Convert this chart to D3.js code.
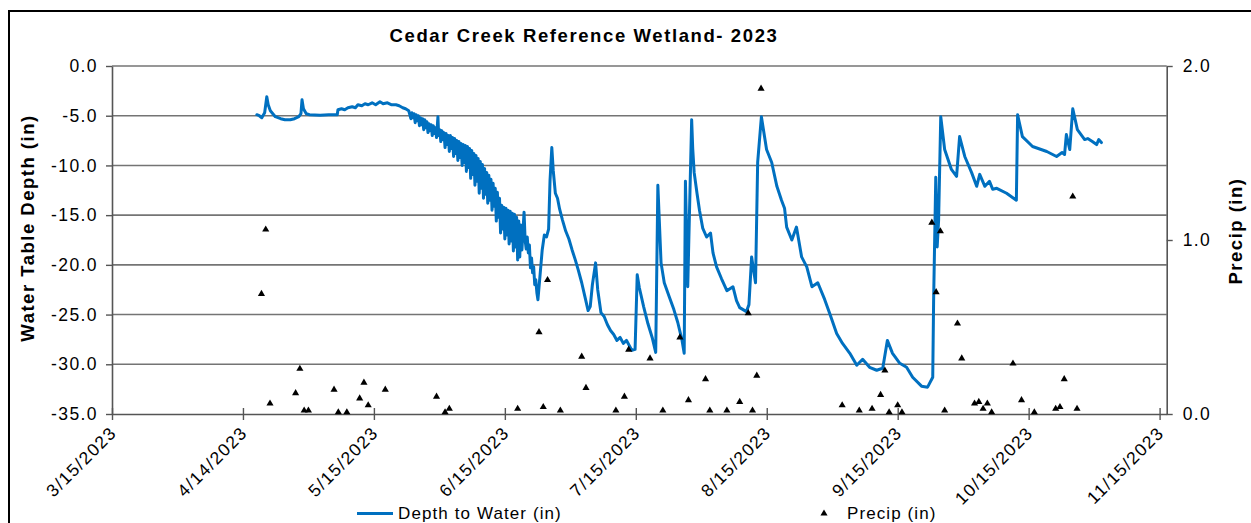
<!DOCTYPE html>
<html>
<head>
<meta charset="utf-8">
<script src="https://cdn.jsdelivr.net/npm/d3@7"></script>
<style>
  html, body { margin: 0; padding: 0; background: #fff; }
  svg { display: block; }
  text { font-family: "Liberation Sans", Arial, sans-serif; fill: #000; }
</style>
</head>
<body>
<svg id="chart" width="1251" height="523"></svg>
<script>
// ---- text ----
const chartTitle = "Cedar Creek Reference Wetland- 2023";
const leftAxisTitle = "Water Table Depth (in)";
const rightAxisTitle = "Precip (in)";
const depthLegendLabel = "Depth to Water (in)";
const precipLegendLabel = "Precip (in)";

// ---- axes ----
const xTickLabels = ["3/15/2023", "4/14/2023", "5/15/2023", "6/15/2023", "7/15/2023",
                     "8/15/2023", "9/15/2023", "10/15/2023", "11/15/2023"];
const depthTicks = [0, -5, -10, -15, -20, -25, -30, -35];
const depthTickLabels = ["0.0", "-5.0", "-10.0", "-15.0", "-20.0", "-25.0", "-30.0", "-35.0"];
const precipTicks = [0, 1, 2];
const precipTickLabels = ["0.0", "1.0", "2.0"];

// ---- depth to water (in), logger readings ----
const depthReadings = [
  ["2023-04-17 22", -4.9], ["2023-04-18 12", -5.0], ["2023-04-19 02", -5.2], ["2023-04-19 18", -4.7],
  ["2023-04-20 06", -3.1], ["2023-04-20 14", -3.9], ["2023-04-21 02", -4.5], ["2023-04-22 06", -5.1],
  ["2023-04-23 12", -5.3], ["2023-04-24 12", -5.4], ["2023-04-25 18", -5.4], ["2023-04-26 18", -5.3],
  ["2023-04-27 18", -5.1], ["2023-04-28 06", -4.8], ["2023-04-28 12", -3.4], ["2023-04-28 20", -4.3],
  ["2023-04-29 12", -4.8], ["2023-04-30 06", -4.9], ["2023-05-02 18", -4.95], ["2023-05-04 18", -4.9],
  ["2023-05-06 18", -4.9], ["2023-05-06 22", -4.4], ["2023-05-07 18", -4.3], ["2023-05-08 12", -4.4],
  ["2023-05-09 06", -4.2], ["2023-05-10 06", -4.1], ["2023-05-11 00", -4.2], ["2023-05-11 14", -3.9],
  ["2023-05-12 12", -4.0], ["2023-05-13 06", -3.8], ["2023-05-14 00", -3.9], ["2023-05-14 22", -3.7],
  ["2023-05-15 18", -3.9], ["2023-05-16 18", -3.6], ["2023-05-17 12", -3.8], ["2023-05-18 12", -3.7],
  ["2023-05-19 12", -3.9], ["2023-05-20 12", -3.9], ["2023-05-21 06", -4.0], ["2023-05-22 02", -4.2],
  ["2023-05-22 18", -4.3], ["2023-05-23 12", -4.5],
  // daily swings while the table falls (6-hourly)
  ["2023-05-24 00", -5.3], ["2023-05-24 06", -4.7], ["2023-05-24 12", -5.2], ["2023-05-24 18", -4.8],
  ["2023-05-25 00", -5.7], ["2023-05-25 06", -4.9], ["2023-05-25 12", -5.5], ["2023-05-25 18", -5.0],
  ["2023-05-26 00", -6.0], ["2023-05-26 06", -5.2], ["2023-05-26 12", -5.9], ["2023-05-26 18", -5.3],
  ["2023-05-27 00", -6.4], ["2023-05-27 06", -5.4], ["2023-05-27 12", -6.2], ["2023-05-27 18", -5.6],
  ["2023-05-28 00", -6.7], ["2023-05-28 06", -5.8], ["2023-05-28 12", -6.5], ["2023-05-28 18", -5.9],
  ["2023-05-29 00", -7.0], ["2023-05-29 06", -6.0], ["2023-05-29 12", -6.8], ["2023-05-29 18", -6.2],
  ["2023-05-30 00", -7.2], ["2023-05-30 08", -5.1], ["2023-05-30 12", -7.0], ["2023-05-30 18", -6.4],
  ["2023-05-31 00", -7.6], ["2023-05-31 06", -6.5], ["2023-05-31 12", -7.4], ["2023-05-31 18", -6.7],
  ["2023-06-01 00", -8.2], ["2023-06-01 06", -6.8], ["2023-06-01 12", -7.9], ["2023-06-01 18", -7.0],
  ["2023-06-02 00", -8.6], ["2023-06-02 06", -7.0], ["2023-06-02 12", -8.3], ["2023-06-02 18", -7.2],
  ["2023-06-03 00", -9.1], ["2023-06-03 06", -7.3], ["2023-06-03 12", -8.8], ["2023-06-03 18", -7.5],
  ["2023-06-04 00", -9.5], ["2023-06-04 06", -7.6], ["2023-06-04 12", -9.2], ["2023-06-04 18", -7.8],
  ["2023-06-05 00", -10.0], ["2023-06-05 06", -7.9], ["2023-06-05 12", -9.7], ["2023-06-05 18", -8.0],
  ["2023-06-06 00", -10.6], ["2023-06-06 06", -8.1], ["2023-06-06 12", -10.2], ["2023-06-06 18", -8.3],
  ["2023-06-07 00", -11.3], ["2023-06-07 06", -8.5], ["2023-06-07 12", -10.9], ["2023-06-07 18", -8.8],
  ["2023-06-08 00", -12.0], ["2023-06-08 06", -9.0], ["2023-06-08 12", -11.6], ["2023-06-08 18", -9.3],
  ["2023-06-09 00", -12.8], ["2023-06-09 06", -9.6], ["2023-06-09 12", -12.3], ["2023-06-09 18", -9.9],
  ["2023-06-10 00", -13.3], ["2023-06-10 06", -10.3], ["2023-06-10 12", -12.9], ["2023-06-10 18", -10.7],
  ["2023-06-11 00", -13.8], ["2023-06-11 06", -11.0], ["2023-06-11 12", -13.5], ["2023-06-11 18", -11.4],
  ["2023-06-12 00", -14.5], ["2023-06-12 06", -11.8], ["2023-06-12 12", -14.1], ["2023-06-12 18", -12.3],
  ["2023-06-13 00", -15.6], ["2023-06-13 06", -12.7], ["2023-06-13 12", -15.2], ["2023-06-13 18", -13.3],
  ["2023-06-14 00", -16.8], ["2023-06-14 06", -14.0], ["2023-06-14 12", -16.4], ["2023-06-14 18", -14.2],
  ["2023-06-15 00", -17.4], ["2023-06-15 06", -14.3], ["2023-06-15 12", -17.0], ["2023-06-15 18", -14.5],
  ["2023-06-16 00", -17.9], ["2023-06-16 06", -14.6], ["2023-06-16 12", -17.6], ["2023-06-16 18", -14.8],
  ["2023-06-17 00", -18.6], ["2023-06-17 06", -14.9], ["2023-06-17 12", -18.2], ["2023-06-17 18", -15.2],
  ["2023-06-18 00", -19.5], ["2023-06-18 06", -15.6], ["2023-06-18 12", -19.2], ["2023-06-18 18", -16.0],
  ["2023-06-19 00", -18.5], ["2023-06-19 12", -14.7], ["2023-06-19 18", -17.5],
  ["2023-06-20 00", -18.4], ["2023-06-20 06", -17.2], ["2023-06-20 12", -18.8], ["2023-06-20 18", -18.0],
  ["2023-06-21 00", -20.3], ["2023-06-21 06", -19.3], ["2023-06-21 12", -20.8], ["2023-06-21 18", -20.2],
  ["2023-06-22 00", -22.0], ["2023-06-22 06", -21.5], ["2023-06-22 12", -22.8], ["2023-06-22 18", -23.5],
  ["2023-06-23 06", -21.0], ["2023-06-23 18", -18.5], ["2023-06-24 06", -17.0],
  ["2023-06-24 18", -17.2], ["2023-06-25 06", -16.4], ["2023-06-25 14", -11.5], ["2023-06-26 00", -8.2],
  // late June - July storms
  ["2023-06-26 08", -10.5], ["2023-06-26 20", -12.8], ["2023-06-27 08", -13.3], ["2023-06-27 20", -14.4],
  ["2023-06-28 12", -15.5], ["2023-06-29 06", -16.6], ["2023-06-30 00", -17.4], ["2023-06-30 18", -18.5],
  ["2023-07-01 12", -19.5], ["2023-07-02 06", -20.6], ["2023-07-03 00", -21.8], ["2023-07-03 18", -23.2],
  ["2023-07-04 12", -24.6], ["2023-07-05 00", -24.2], ["2023-07-05 12", -22.0], ["2023-07-06 06", -19.8],
  ["2023-07-06 18", -22.5], ["2023-07-07 12", -24.8], ["2023-07-08 06", -25.2], ["2023-07-09 00", -26.0],
  ["2023-07-09 18", -26.6], ["2023-07-10 12", -27.0], ["2023-07-11 06", -27.6], ["2023-07-12 00", -27.3],
  ["2023-07-12 18", -27.9], ["2023-07-13 12", -27.6], ["2023-07-14 06", -28.2], ["2023-07-14 18", -28.6],
  ["2023-07-15 12", -28.5], ["2023-07-16 00", -21.0], ["2023-07-16 12", -22.3], ["2023-07-17 12", -24.2],
  ["2023-07-18 12", -25.9], ["2023-07-19 12", -27.3], ["2023-07-20 08", -28.8], ["2023-07-20 20", -12.0],
  ["2023-07-21 14", -19.8], ["2023-07-22 08", -21.8], ["2023-07-23 12", -23.2], ["2023-07-24 14", -24.5],
  ["2023-07-25 12", -25.8], ["2023-07-26 12", -27.6], ["2023-07-27 00", -28.9], ["2023-07-27 07", -11.6],
  ["2023-07-27 20", -22.2], ["2023-07-28 18", -5.4],
  // recession through August
  ["2023-07-29 00", -8.3], ["2023-07-29 08", -10.7], ["2023-07-30 00", -12.8], ["2023-07-30 14", -14.5],
  ["2023-07-31 08", -16.3], ["2023-08-01 06", -17.2], ["2023-08-02 04", -16.8], ["2023-08-02 18", -18.8],
  ["2023-08-03 14", -20.2], ["2023-08-04 18", -21.4], ["2023-08-06 00", -22.6], ["2023-08-07 10", -22.2],
  ["2023-08-08 06", -23.6], ["2023-08-09 00", -24.3], ["2023-08-10 14", -24.7], ["2023-08-11 04", -24.0],
  ["2023-08-11 19", -19.2], ["2023-08-12 17", -21.8], ["2023-08-13 05", -9.7], ["2023-08-14 02", -5.1],
  ["2023-08-15 07", -8.4], ["2023-08-16 12", -9.7], ["2023-08-17 17", -12.1], ["2023-08-18 19", -13.5],
  ["2023-08-19 12", -14.3], ["2023-08-20 00", -16.2], ["2023-08-21 05", -17.5], ["2023-08-22 07", -16.2],
  ["2023-08-23 12", -19.2], ["2023-08-24 17", -20.2], ["2023-08-25 22", -22.2], ["2023-08-27 07", -21.8],
  ["2023-08-28 22", -23.5], ["2023-08-30 02", -24.9], ["2023-08-31 17", -26.9], ["2023-09-02 02", -27.9],
  ["2023-09-03 19", -28.9], ["2023-09-05 10", -30.1], ["2023-09-06 19", -29.5], ["2023-09-08 10", -30.3],
  ["2023-09-10 02", -30.6], ["2023-09-11 12", -30.4], ["2023-09-12 14", -27.6], ["2023-09-13 19", -28.9],
  ["2023-09-15 12", -29.9], ["2023-09-17 02", -30.3], ["2023-09-18 12", -31.3], ["2023-09-20 14", -32.2],
  ["2023-09-22 00", -32.3], ["2023-09-23 05", -31.3], ["2023-09-23 10", -23.5], ["2023-09-23 22", -11.2],
  ["2023-09-24 06", -18.2], ["2023-09-24 14", -15.5], ["2023-09-25 02", -5.1],
  // fall recharge
  ["2023-09-26 00", -8.4], ["2023-09-27 14", -10.4], ["2023-09-28 19", -11.1], ["2023-09-29 12", -7.1],
  ["2023-09-30 17", -9.1], ["2023-10-02 07", -10.7], ["2023-10-03 12", -12.1], ["2023-10-04 05", -10.9],
  ["2023-10-05 10", -12.1], ["2023-10-06 12", -11.6], ["2023-10-07 06", -12.4], ["2023-10-08 05", -12.3],
  ["2023-10-10 12", -12.8], ["2023-10-12 19", -13.5], ["2023-10-13 02", -4.9], ["2023-10-14 05", -7.1],
  ["2023-10-16 14", -8.1], ["2023-10-19 22", -8.6], ["2023-10-22 05", -9.1], ["2023-10-23 12", -8.7],
  ["2023-10-24 02", -8.9], ["2023-10-24 12", -6.9], ["2023-10-25 07", -8.4], ["2023-10-26 00", -4.3],
  ["2023-10-27 02", -6.4], ["2023-10-28 19", -7.4], ["2023-10-29 12", -7.3], ["2023-10-30 14", -7.6],
  ["2023-10-31 14", -7.9], ["2023-11-01 02", -7.4], ["2023-11-01 17", -7.7]
];

// ---- daily precipitation (in) ----
const precipDaily = [
  ["2023-04-19", 0.69], ["2023-04-20", 1.06], ["2023-04-21", 0.06], ["2023-04-27", 0.12],
  ["2023-04-28", 0.26], ["2023-04-29", 0.02], ["2023-04-30", 0.02], ["2023-05-06", 0.14],
  ["2023-05-07", 0.01], ["2023-05-09", 0.01], ["2023-05-12", 0.09], ["2023-05-13", 0.18],
  ["2023-05-14", 0.05], ["2023-05-18", 0.14], ["2023-05-30", 0.10], ["2023-06-01", 0.01],
  ["2023-06-02", 0.03], ["2023-06-18", 0.03], ["2023-06-23", 0.47], ["2023-06-24", 0.04],
  ["2023-06-25", 0.77], ["2023-06-28", 0.02], ["2023-07-03", 0.33], ["2023-07-04", 0.15],
  ["2023-07-11", 0.02], ["2023-07-13", 0.10], ["2023-07-14", 0.37], ["2023-07-19", 0.32],
  ["2023-07-22", 0.02], ["2023-07-26", 0.44], ["2023-07-28", 0.08], ["2023-08-01", 0.20],
  ["2023-08-02", 0.02], ["2023-08-06", 0.02], ["2023-08-09", 0.07], ["2023-08-11", 0.58],
  ["2023-08-12", 0.02], ["2023-08-13", 0.22], ["2023-08-14", 1.87], ["2023-09-02", 0.05],
  ["2023-09-06", 0.02], ["2023-09-09", 0.03], ["2023-09-11", 0.11], ["2023-09-12", 0.25],
  ["2023-09-13", 0.01], ["2023-09-15", 0.05], ["2023-09-16", 0.01], ["2023-09-23", 1.10],
  ["2023-09-24", 0.70], ["2023-09-25", 1.05], ["2023-09-26", 0.02], ["2023-09-29", 0.52],
  ["2023-09-30", 0.32], ["2023-10-03", 0.06], ["2023-10-04", 0.07], ["2023-10-05", 0.03],
  ["2023-10-06", 0.06], ["2023-10-07", 0.01], ["2023-10-12", 0.29], ["2023-10-14", 0.08],
  ["2023-10-17", 0.01], ["2023-10-22", 0.03], ["2023-10-23", 0.04], ["2023-10-24", 0.20],
  ["2023-10-26", 1.25], ["2023-10-27", 0.03]
];

// ---- layout ----
const plot = { left: 112, right: 1166.7, top: 66, bottom: 414 };
const axisStart = "2023-03-15";
const axisSpanDays = 247;
const majorUnitDays = 30.667;
const lineBlue = "#0070c0";
const gridGray = "#747474";
const axisGray = "#555555";

const parseHour = d3.timeParse("%Y-%m-%d %H");
const parseDay = d3.timeParse("%Y-%m-%d");
const depth = depthReadings.map(([t, v]) => ({ t: parseHour(t), v }));
const precip = precipDaily.map(([t, p]) => ({ t: parseDay(t), p }));

const start = parseDay(axisStart);
const x = d3.scaleTime()
  .domain([start, d3.timeDay.offset(start, axisSpanDays)])
  .range([plot.left, plot.right]);
const yDepth = d3.scaleLinear().domain([-35, 0]).range([plot.bottom, plot.top]);
const yPrecip = d3.scaleLinear().domain([0, 2]).range([plot.bottom, plot.top]);
const tickDates = xTickLabels.map((_, i) => new Date(+start + i * majorUnitDays * 864e5));

const svg = d3.select("#chart");
svg.append("rect").attr("width", 1251).attr("height", 523).attr("fill", "#fff");

// outer chart frame
svg.append("rect")
  .attr("x", 9).attr("y", 11).attr("width", 1252).attr("height", 530)
  .attr("fill", "none").attr("stroke", "#000").attr("stroke-width", 2);

// title
svg.append("text")
  .attr("x", 584).attr("y", 41.5)
  .attr("text-anchor", "middle")
  .style("font-size", "18.5px").style("font-weight", "bold").style("letter-spacing", "1.6px")
  .text(chartTitle);

// horizontal gridlines
svg.append("g").selectAll("line")
  .data(depthTicks.filter(d => d > -35))
  .join("line")
  .attr("x1", plot.left).attr("x2", plot.right)
  .attr("y1", d => yDepth(d)).attr("y2", d => yDepth(d))
  .attr("stroke", gridGray).attr("stroke-width", 1.6);

function styleAxis(g) {
  g.select(".domain").attr("stroke", axisGray).attr("stroke-width", 1.6);
  g.selectAll(".tick line").attr("stroke", axisGray).attr("stroke-width", 1.4);
  g.selectAll(".tick text")
    .attr("fill", "#000")
    .style("font-family", "\"Liberation Sans\", Arial, sans-serif")
    .style("font-size", "17.5px")
    .style("letter-spacing", "1.4px");
}

// left axis (depth)
const gLeft = svg.append("g")
  .attr("transform", `translate(${plot.left},0)`)
  .call(d3.axisLeft(yDepth).tickValues(depthTicks)
    .tickFormat((d, i) => depthTickLabels[i])
    .tickSizeInner(6).tickSizeOuter(0).tickPadding(8));
styleAxis(gLeft);

// right axis (precip)
const gRight = svg.append("g")
  .attr("transform", `translate(${plot.right},0)`)
  .call(d3.axisRight(yPrecip).tickValues(precipTicks)
    .tickFormat((d, i) => precipTickLabels[i])
    .tickSizeInner(6).tickSizeOuter(0).tickPadding(10));
styleAxis(gRight);

// bottom date axis, ticks cross the axis line
const gBottom = svg.append("g")
  .attr("transform", `translate(0,${plot.bottom})`)
  .call(d3.axisBottom(x).tickValues(tickDates)
    .tickFormat((d, i) => xTickLabels[i])
    .tickSizeInner(6).tickSizeOuter(0));
styleAxis(gBottom);
gBottom.selectAll(".tick line").attr("y1", -6).attr("y2", 6);
gBottom.selectAll(".tick text")
  .attr("x", 0).attr("y", 0).attr("dy", null)
  .attr("text-anchor", "end")
  .attr("transform", "translate(5,20) rotate(-45)");

// axis titles
svg.append("text")
  .attr("transform", "translate(34,228) rotate(-90)")
  .attr("text-anchor", "middle")
  .style("font-size", "18.5px").style("font-weight", "bold").style("letter-spacing", "1.5px")
  .text(leftAxisTitle);
svg.append("text")
  .attr("transform", "translate(1242,231) rotate(-90)")
  .attr("text-anchor", "middle")
  .style("font-size", "18.5px").style("font-weight", "bold").style("letter-spacing", "1.5px")
  .text(rightAxisTitle);

// depth to water line
const line = d3.line().x(d => x(d.t)).y(d => yDepth(d.v));
svg.append("path")
  .datum(depth)
  .attr("d", line)
  .attr("fill", "none")
  .attr("stroke", lineBlue)
  .attr("stroke-width", 3)
  .attr("stroke-linejoin", "round")
  .attr("stroke-linecap", "round");

// precipitation markers
const tri = d3.symbol(d3.symbolTriangle, 22);
svg.append("g").selectAll("path")
  .data(precip)
  .join("path")
  .attr("transform", d => `translate(${x(d.t)},${yPrecip(d.p)})`)
  .attr("d", tri)
  .attr("fill", "#000");

// legend
const legend = svg.append("g");
legend.append("line")
  .attr("x1", 357).attr("x2", 393).attr("y1", 513.5).attr("y2", 513.5)
  .attr("stroke", lineBlue).attr("stroke-width", 3);
legend.append("text")
  .attr("x", 398).attr("y", 518.5)
  .style("font-size", "17px").style("letter-spacing", "1.1px")
  .text(depthLegendLabel);
legend.append("path")
  .attr("transform", "translate(824,513.5)")
  .attr("d", tri).attr("fill", "#000");
legend.append("text")
  .attr("x", 847).attr("y", 518.5)
  .style("font-size", "17px").style("letter-spacing", "1.1px")
  .text(precipLegendLabel);
</script>
</body>
</html>
